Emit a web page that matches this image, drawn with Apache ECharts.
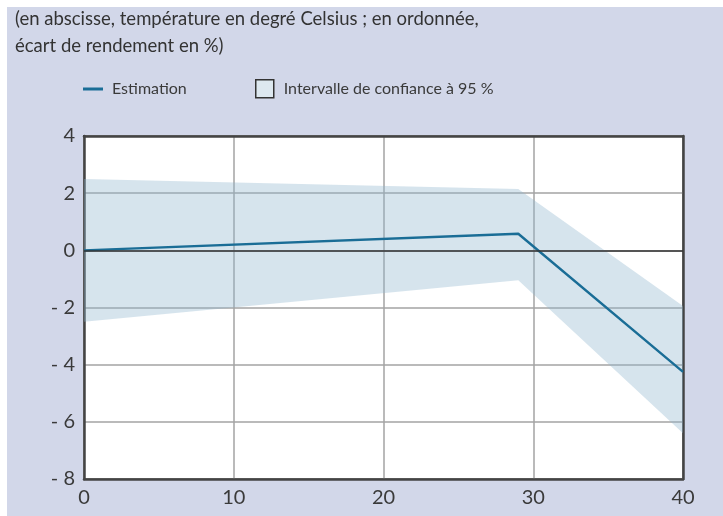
<!DOCTYPE html>
<html>
<head>
<meta charset="utf-8">
<script src="https://cdn.jsdelivr.net/npm/echarts@6/dist/echarts.min.js"></script>
<style>
html,body{margin:0;padding:0;background:#fff;}
#chart{width:723px;height:516px;}
</style>
</head>
<body>
<div id="chart"></div>
<script>
// ---- Data ----
var titleLines = ['(en abscisse, température en degré Celsius ; en ordonnée,', 'écart de rendement en %)'];
var estimationName = 'Estimation';
var bandName = 'Intervalle de confiance à 95 %';
var xPoints = [0, 29, 40];
var estimation = [0, 0.58, -4.25];
var bandLow = [-2.5, -1.05, -6.4];
var bandHigh = [2.5, 2.15, -1.95];
var xTicks = [0, 10, 20, 30, 40];
var xTickLabels = ['0', '10', '20', '30', '40'];
var yTicks = [4, 2, 0, -2, -4, -6, -8];
var yTickLabels = ['4', '2', '0', '- 2', '- 4', '- 6', '- 8'];

// ---- Build ----
var estData = xPoints.map(function (x, i) { return [x, estimation[i]]; });
var bandData = xPoints.map(function (x, i) { return [x, bandLow[i], bandHigh[i]]; });

function lookup(ticks, labels, v) {
  for (var i = 0; i < ticks.length; i++) { if (Math.abs(ticks[i] - v) < 1e-9) return labels[i]; }
  return '';
}

var labelFont = 'Lato, "Noto Sans", sans-serif';
var lineColor = '#1a6d96';
var bandFill = 'rgba(140,180,205,0.36)';
var bgColor = '#d2d7e9';

var chart = echarts.init(document.getElementById('chart'), null, {renderer: 'canvas'});
chart.setOption({
  backgroundColor: '#ffffff',
  animation: false,
  graphic: [
    {type: 'rect', left: 7, top: 7, shape: {width: 716, height: 509}, style: {fill: bgColor}, z: -10, silent: true},
    {type: 'text', left: 15, top: 6, style: {text: titleLines.join('\n'), font: '18.5px Lato, "Noto Sans", sans-serif', fill: '#333', lineHeight: 27}, z: 10}
  ],
  legend: [
    {
      left: 83, top: 81, padding: 0, itemWidth: 20, itemHeight: 18,
      data: [{name: estimationName, icon: 'path://M0,0 L20,0 L20,3 L0,3 Z', itemStyle: {color: lineColor}}],
      textStyle: {fontFamily: labelFont, fontSize: 16, color: '#3a3a3a', padding: [0, 0, 0, 4]},
      selectedMode: false
    },
    {
      left: 255, top: 79, padding: 0, itemWidth: 18, itemHeight: 18,
      data: [{name: bandName, icon: 'rect', itemStyle: {color: '#dde8f0', borderColor: '#333', borderWidth: 1.5}}],
      textStyle: {fontFamily: labelFont, fontSize: 16, color: '#3a3a3a', padding: [0, 0, 0, 5]},
      selectedMode: false
    }
  ],
  grid: {left: 84, right: 40, top: 136, bottom: 37, show: true, backgroundColor: '#ffffff', borderColor: '#444', borderWidth: 2},
  xAxis: [
    {
      type: 'value', min: 0, max: 40, interval: 10, position: 'bottom',
      axisLine: {show: true, onZero: false, lineStyle: {color: '#444', width: 2.5}},
      axisTick: {show: false},
      axisLabel: {margin: 9, fontFamily: labelFont, fontSize: 20, color: '#3a3a3a', formatter: function (v) { return lookup(xTicks, xTickLabels, v); }},
      splitLine: {show: true, lineStyle: {color: '#a3a3a3', width: 1.5}}
    },
    {
      type: 'value', min: 0, max: 40, interval: 10, position: 'top',
      axisLine: {show: true, onZero: false, lineStyle: {color: '#444', width: 2.5}},
      axisTick: {show: false}, axisLabel: {show: false}, splitLine: {show: false}
    }
  ],
  yAxis: [
    {
      type: 'value', min: -8, max: 4, interval: 2, position: 'left',
      axisLine: {show: true, onZero: false, lineStyle: {color: '#444', width: 2.5}},
      axisTick: {show: false},
      axisLabel: {margin: 9, fontFamily: labelFont, fontSize: 20, color: '#3a3a3a', formatter: function (v) { return lookup(yTicks, yTickLabels, v); }},
      splitLine: {show: true, lineStyle: {color: '#a3a3a3', width: 1.5}}
    },
    {
      type: 'value', min: -8, max: 4, interval: 2, position: 'right',
      axisLine: {show: true, onZero: false, lineStyle: {color: '#444', width: 2.5}},
      axisTick: {show: false}, axisLabel: {show: false}, splitLine: {show: false}
    }
  ],
  series: [
    {
      name: bandName, type: 'custom', data: bandData, silent: true, z: 1,
      encode: {x: 0, y: [1, 2]},
      itemStyle: {color: '#dde8f0'},
      renderItem: function (params, api) {
        if (params.dataIndex !== 0) return null;
        var pts = [];
        for (var i = 0; i < bandData.length; i++) pts.push(api.coord([bandData[i][0], bandData[i][2]]));
        for (var j = bandData.length - 1; j >= 0; j--) pts.push(api.coord([bandData[j][0], bandData[j][1]]));
        return {type: 'polygon', shape: {points: pts}, style: {fill: bandFill}};
      }
    },
    {
      name: estimationName, type: 'line', data: estData, symbol: 'none',
      lineStyle: {color: lineColor, width: 2.4}, itemStyle: {color: lineColor}, z: 3,
      markLine: {silent: true, symbol: 'none', label: {show: false}, lineStyle: {color: '#333', width: 1.5, type: 'solid'}, data: [{yAxis: 0}]}
    }
  ]
});
</script>
</body>
</html>
